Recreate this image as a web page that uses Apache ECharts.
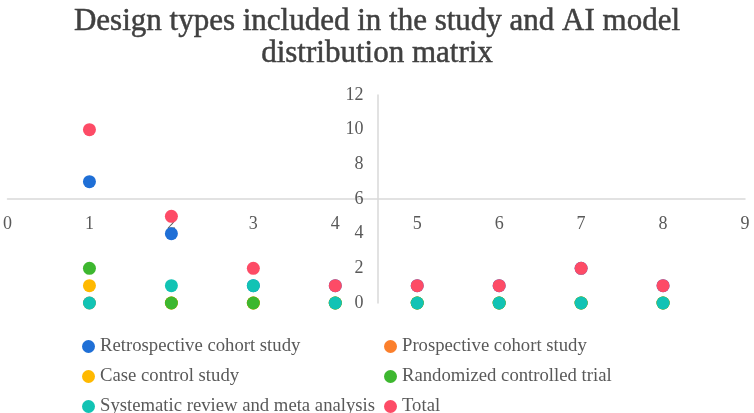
<!DOCTYPE html>
<html>
<head>
<meta charset="utf-8">
<script src="https://cdn.jsdelivr.net/npm/echarts@6/dist/echarts.min.js"></script>
<style>html,body{margin:0;padding:0;background:#fff}#c{width:754px;height:413px}</style>
</head>
<body>
<div id="c"></div>
<script>
const titleText = "Design types included in the study and AI model\ndistribution matrix";
const xValues = [1, 2, 3, 4, 5, 6, 7, 8];
const seriesNames = ["Retrospective cohort study", "Prospective cohort study", "Case control study", "Randomized controlled trial", "Systematic review and meta analysis", "Total"];
const retrospective = [7, 4, 1, 1, 1, 1, 2, 1];
const prospective = [0, 0, 0, 0, 0, 0, 0, 0];
const caseControl = [1, 0, 0, 0, 0, 0, 0, 0];
const rct = [2, 0, 0, 0, 0, 0, 0, 0];
const systematic = [0, 1, 1, 0, 0, 0, 0, 0];
const total = [10, 5, 2, 1, 1, 1, 2, 1];
const colors = ["#1f6fd6", "#fb7f2c", "#ffb900", "#3db72f", "#12c3b4", "#fd4b66"];

const allValues = [retrospective, prospective, caseControl, rct, systematic, total];
const font = "'Liberation Serif', 'DejaVu Serif', serif";
const chart = echarts.init(document.getElementById('c'));
const legendText = {fontSize: 18.7, color: '#595959', fontFamily: font};
const legendBase = {orient: 'vertical', top: 337, height: 90, padding: 0, itemGap: 11,
  icon: 'circle', itemWidth: 13, itemHeight: 13, itemStyle: {borderWidth: 0}, textStyle: legendText};
chart.setOption({
  animation: false,
  color: colors,
  title: {
    text: titleText, left: 'center', top: 1,
    textStyle: {fontSize: 31, fontWeight: 'normal', color: '#404040', fontFamily: font, lineHeight: 32,
      textBorderColor: '#404040', textBorderWidth: 0.5}
  },
  legend: [
    Object.assign({data: [seriesNames[0], seriesNames[2], seriesNames[4]], left: 82}, legendBase),
    Object.assign({data: [seriesNames[1], seriesNames[3], seriesNames[5]], left: 384}, legendBase)
  ],
  grid: {left: 7, right: 9, top: 95, bottom: 110, containLabel: false},
  xAxis: {
    type: 'value', min: 0, max: 9, interval: 1, offset: -104,
    axisLine: {show: true, onZero: false, lineStyle: {color: '#d9d9d9', width: 1.5}},
    axisTick: {show: false}, splitLine: {show: false},
    axisLabel: {fontSize: 18, color: '#595959', fontFamily: font, margin: 16}
  },
  yAxis: {
    type: 'value', min: 0, max: 12, interval: 2, offset: -370,
    axisLine: {show: true, onZero: false, lineStyle: {color: '#d9d9d9', width: 1.5}},
    axisTick: {show: false}, splitLine: {show: false},
    axisLabel: {fontSize: 18, color: '#595959', fontFamily: font, margin: 14}
  },
  series: seriesNames.map((name, i) => ({
    name: name, type: 'scatter', symbolSize: 13,
    itemStyle: {opacity: 1},
    data: xValues.map((x, j) => [x, allValues[i][j]])
  }))
});
</script>
</body>
</html>
